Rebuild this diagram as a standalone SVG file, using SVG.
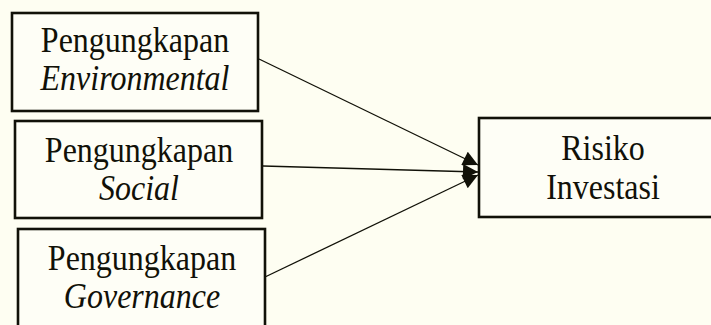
<svg xmlns="http://www.w3.org/2000/svg" width="711" height="325" viewBox="0 0 711 325">
  <style>
    .box { fill: #ffffff; fill-opacity: 0.35; stroke: #111108; stroke-width: 2.6; }
    .t { font-family: "Liberation Serif", "Times New Roman", serif; font-size: 32px; fill: #111108; text-anchor: middle; }
    .i { font-style: italic; }
    .edge { stroke: #111108; stroke-width: 1.3; fill: none; marker-end: url(#ah); }
  </style>
  <defs>
    <marker id="ah" viewBox="0 0 10 10" refX="10" refY="5" markerWidth="16" markerHeight="15" markerUnits="userSpaceOnUse" orient="auto">
      <path d="M0,0 L10,5 L0,10 Z" fill="#111108"/>
    </marker>
  </defs>
  <rect x="0" y="0" width="711" height="325" fill="#fefef2"/>
  <g id="node-env">
    <rect class="box" x="12" y="13" width="246" height="98"/>
    <text class="t" transform="translate(135,52) scale(1,1.1)">Pengungkapan</text>
    <text class="t i" transform="translate(135,90) scale(1,1.1)">Environmental</text>
  </g>
  <g id="node-soc">
    <rect class="box" x="15" y="121" width="247" height="97"/>
    <text class="t" transform="translate(139,162) scale(1,1.1)">Pengungkapan</text>
    <text class="t i" transform="translate(139,200) scale(1,1.1)">Social</text>
  </g>
  <g id="node-gov">
    <rect class="box" x="18" y="229" width="247" height="110"/>
    <text class="t" transform="translate(142,270) scale(1,1.1)">Pengungkapan</text>
    <text class="t i" transform="translate(142,308) scale(1,1.1)">Governance</text>
  </g>
  <g id="node-risk">
    <rect class="box" x="479" y="118" width="240" height="99"/>
    <text class="t" transform="translate(603,160) scale(1,1.1)">Risiko</text>
    <text class="t" transform="translate(603,199) scale(1,1.1)">Investasi</text>
  </g>
  <g id="connectors">
    <line class="edge" x1="259" y1="59" x2="478" y2="165"/>
    <line class="edge" x1="263" y1="166" x2="478" y2="172"/>
    <line class="edge" x1="265" y1="277" x2="478" y2="175"/>
  </g>
</svg>
